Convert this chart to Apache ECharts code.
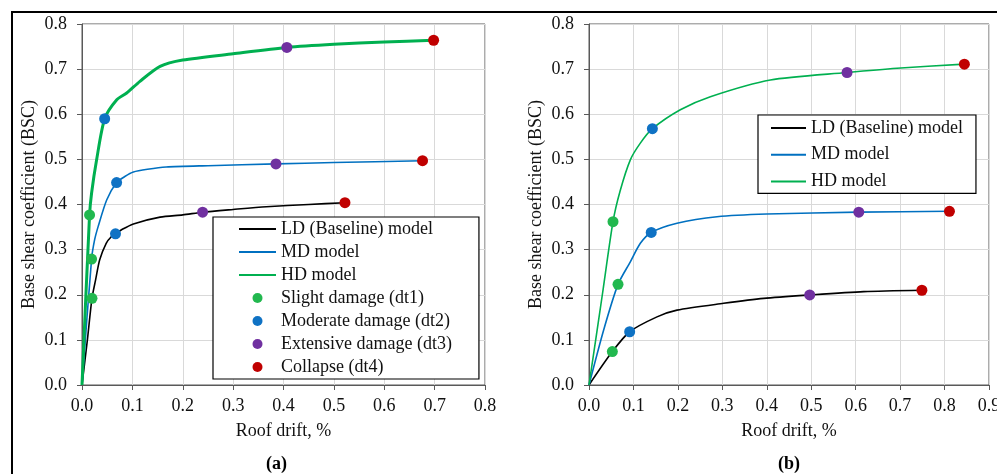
<!DOCTYPE html>
<html>
<head>
<meta charset="utf-8">
<script src="https://cdn.jsdelivr.net/npm/echarts@6/dist/echarts.min.js"></script>
<style>
  html, body { margin: 0; padding: 0; background: #fff; }
  #chart { width: 997px; height: 474px; }
</style>
</head>
<body>
<div id="chart"></div>
<script>
// Pushover curves: [roof drift %, base shear coefficient]
// Panel (a)
const ldCurveA = [[0,0],[0.0107,0.10],[0.0198,0.192],[0.027,0.233],[0.035,0.277],[0.048,0.314],[0.0585,0.329],[0.0665,0.335],[0.08,0.345],[0.102,0.357],[0.155,0.372],[0.2,0.377],[0.2394,0.383],[0.3,0.389],[0.366,0.395],[0.45,0.400],[0.522,0.404]];
const mdCurveA = [[0,0],[0.019,0.279],[0.025,0.3215],[0.032,0.351],[0.049,0.41],[0.0687,0.4486],[0.085,0.462],[0.102,0.472],[0.13,0.478],[0.167,0.483],[0.25,0.486],[0.385,0.490],[0.5,0.493],[0.676,0.497]];
const hdCurveA = [[0,0],[0.015,0.377],[0.019,0.425],[0.029,0.499],[0.045,0.590],[0.069,0.632],[0.0887,0.647],[0.115,0.673],[0.155,0.706],[0.2,0.720],[0.3,0.734],[0.4067,0.748],[0.5,0.755],[0.6,0.760],[0.698,0.764]];
// Panel (b)
const ldCurveB = [[0,0],[0.0525,0.074],[0.0915,0.118],[0.153,0.151],[0.198,0.166],[0.303,0.181],[0.393,0.192],[0.4966,0.1996],[0.618,0.207],[0.749,0.210]];
const mdCurveB = [[0,0],[0.033,0.122],[0.0653,0.223],[0.093,0.273],[0.1155,0.314],[0.14,0.338],[0.198,0.3585],[0.288,0.373],[0.4,0.379],[0.607,0.383],[0.811,0.385]];
const hdCurveB = [[0,0],[0.03,0.20],[0.054,0.362],[0.07,0.43],[0.093,0.499],[0.1155,0.536],[0.1426,0.568],[0.2055,0.610],[0.273,0.639],[0.408,0.676],[0.5806,0.6925],[0.693,0.702],[0.8446,0.711]];

// Damage-state thresholds (LD, MD, HD)
const dt1A = [[0.0198,0.192],[0.019,0.279],[0.015,0.377]];
const dt2A = [[0.0665,0.335],[0.0687,0.4486],[0.045,0.590]];
const dt3A = [[0.2394,0.383],[0.385,0.490],[0.4067,0.748]];
const dt4A = [[0.522,0.404],[0.676,0.497],[0.698,0.764]];
const dt1B = [[0.0525,0.074],[0.0653,0.223],[0.054,0.362]];
const dt2B = [[0.0915,0.118],[0.14,0.338],[0.1426,0.568]];
const dt3B = [[0.4966,0.1996],[0.607,0.383],[0.5806,0.6925]];
const dt4B = [[0.749,0.210],[0.811,0.385],[0.8446,0.711]];

const modelNames = ['LD (Baseline) model', 'MD model', 'HD model'];
const damageNames = ['Slight damage (dt1)', 'Moderate damage (dt2)', 'Extensive damage (dt3)', 'Collapse (dt4)'];
const xMaxA = 0.8, xMaxB = 0.9, yMax = 0.8, tickStep = 0.1;

const FONT = '"Liberation Serif", "Times New Roman", serif';
const modelColors = ['#000000', '#0070C0', '#00B050'];
const damageColors = ['#22B84F', '#0F72C4', '#7030A0', '#C00000'];

function xAxis(idx, max) {
  return {
    type: 'value', gridIndex: idx, min: 0, max: max, interval: tickStep,
    name: 'Roof drift, %', nameLocation: 'middle', nameGap: 37,
    nameTextStyle: { fontFamily: FONT, fontSize: 18, color: '#111' },
    axisLine: { show: true, onZero: false, lineStyle: { color: '#595959', width: 1 } },
    axisTick: { show: true, inside: false, length: 5, lineStyle: { color: '#595959' } },
    axisLabel: { fontFamily: FONT, fontSize: 18, color: '#111', margin: 12,
      formatter: v => v.toFixed(1), showMaxLabel: true },
    splitLine: { show: true, lineStyle: { color: '#d9d9d9', width: 1 } }
  };
}
function yAxis(idx) {
  return {
    type: 'value', gridIndex: idx, min: 0, max: yMax, interval: tickStep,
    name: 'Base shear coefficient (BSC)', nameLocation: 'middle', nameGap: 44,
    nameTextStyle: { fontFamily: FONT, fontSize: 18, color: '#111' },
    axisLine: { show: true, lineStyle: { color: '#595959', width: 1 } },
    axisTick: { show: true, inside: false, length: 5, lineStyle: { color: '#595959' } },
    axisLabel: { fontFamily: FONT, fontSize: 18, color: '#111', margin: 15,
      formatter: v => v.toFixed(1) },
    splitLine: { show: true, lineStyle: { color: '#d9d9d9', width: 1 } }
  };
}
function curve(name, idx, data, color, width) {
  return {
    type: 'line', name: name, xAxisIndex: idx, yAxisIndex: idx, data: data,
    showSymbol: false, symbol: 'circle', smooth: 0.25,
    lineStyle: { color: color, width: width }, itemStyle: { color: color },
    silent: true, animation: false, z: 2
  };
}
function points(name, idx, data, color) {
  return {
    type: 'scatter', name: name, xAxisIndex: idx, yAxisIndex: idx, data: data,
    symbol: 'circle', symbolSize: 11, itemStyle: { color: color, opacity: 1 },
    silent: true, animation: false, z: 3
  };
}

const legendText = { fontFamily: FONT, fontSize: 18, color: '#111', lineHeight: 18 };
const lineLegendItem = name => ({ name: name, itemStyle: { opacity: 0 } });

const option = {
  backgroundColor: '#ffffff',
  animation: false,
  grid: [
    { left: 82, top: 24, width: 403, height: 361, outerBoundsMode: 'none', containLabel: false,
      show: true, borderColor: '#595959', borderWidth: 1, backgroundColor: 'transparent' },
    { left: 589, top: 24, width: 400, height: 361, outerBoundsMode: 'none', containLabel: false,
      show: true, borderColor: '#595959', borderWidth: 1, backgroundColor: 'transparent' }
  ],
  xAxis: [xAxis(0, xMaxA), xAxis(1, xMaxB)],
  yAxis: [yAxis(0), yAxis(1)],
  legend: [
    {
      left: 213, top: 217, orient: 'vertical',
      backgroundColor: '#fff', borderColor: '#000', borderWidth: 1.2,
      padding: [3, 27, 3, 25], itemWidth: 37, itemHeight: 10, itemGap: 5,
      textStyle: legendText, selectedMode: false,
      data: modelNames.map(lineLegendItem).concat(damageNames.map(n => ({ name: n, icon: 'circle' })))
    },
    {
      left: 758, top: 115, orient: 'vertical',
      backgroundColor: '#fff', borderColor: '#000', borderWidth: 1.2,
      padding: [4, 13, 3, 12], itemWidth: 35, itemHeight: 10, itemGap: 8.7,
      textStyle: legendText, selectedMode: false,
      data: modelNames.map(lineLegendItem)
    }
  ],
  series: [
    curve(modelNames[0], 0, ldCurveA, modelColors[0], 1.6),
    curve(modelNames[1], 0, mdCurveA, modelColors[1], 1.6),
    curve(modelNames[2], 0, hdCurveA, modelColors[2], 3),
    curve(modelNames[0], 1, ldCurveB, modelColors[0], 1.6),
    curve(modelNames[1], 1, mdCurveB, modelColors[1], 1.6),
    curve(modelNames[2], 1, hdCurveB, modelColors[2], 1.6),
    points(damageNames[0], 0, dt1A, damageColors[0]),
    points(damageNames[1], 0, dt2A, damageColors[1]),
    points(damageNames[2], 0, dt3A, damageColors[2]),
    points(damageNames[3], 0, dt4A, damageColors[3]),
    points(damageNames[0], 1, dt1B, damageColors[0]),
    points(damageNames[1], 1, dt2B, damageColors[1]),
    points(damageNames[2], 1, dt3B, damageColors[2]),
    points(damageNames[3], 1, dt4B, damageColors[3])
  ],
  graphic: [
    { type: 'rect', shape: { x: 12, y: 12, width: 1000, height: 500 },
      style: { fill: 'none', stroke: '#000', lineWidth: 2 }, silent: true, z: -1 },
    { type: 'text', left: 266, top: 455,
      style: { text: '(a)', font: 'bold 18px ' + FONT, fill: '#000' } },
    { type: 'text', left: 778, top: 455,
      style: { text: '(b)', font: 'bold 18px ' + FONT, fill: '#000' } }
  ]
};

const chart = echarts.init(document.getElementById('chart'), null, { renderer: 'canvas' });
chart.setOption(option);
</script>
</body>
</html>
